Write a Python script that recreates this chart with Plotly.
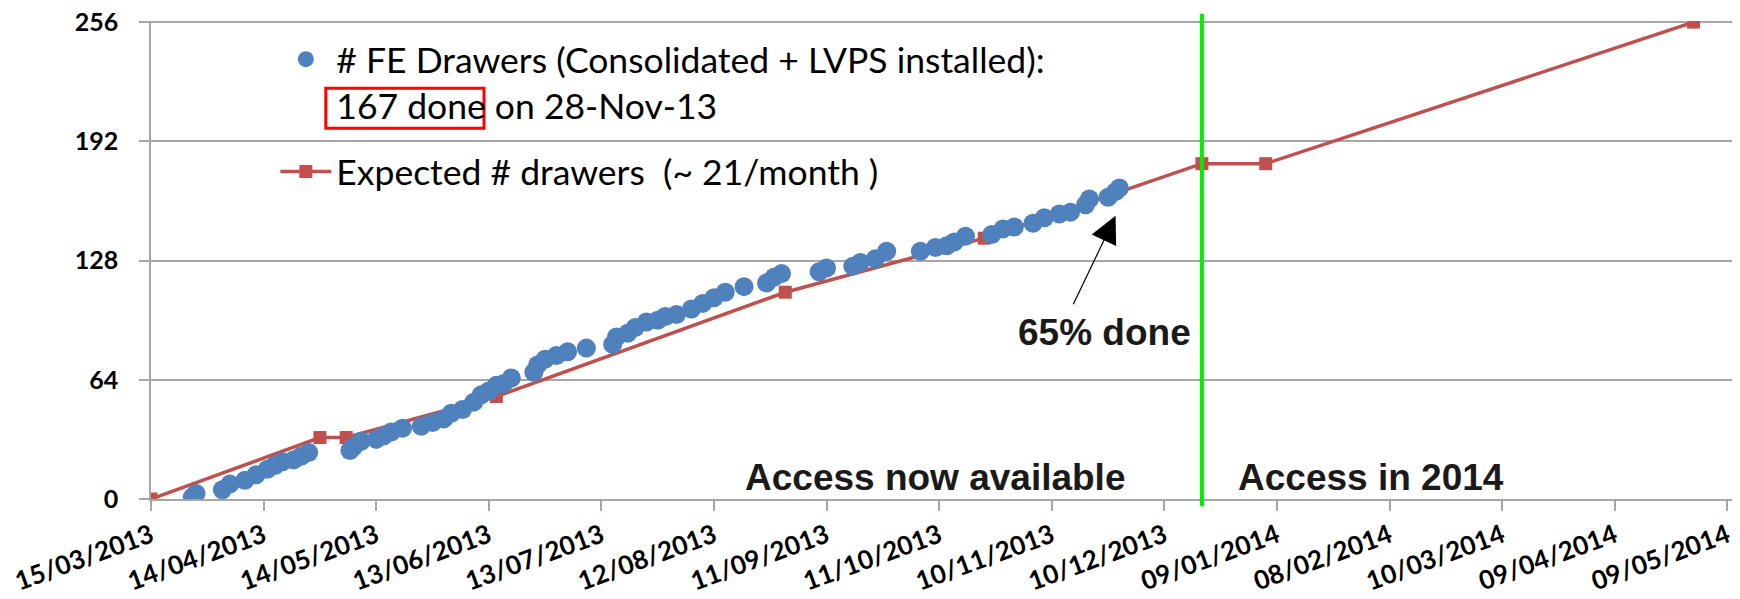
import plotly.graph_objects as go

# actual drawers (consolidated + LVPS installed)
done_dates = [
    '2013-03-26', '2013-03-27', '2013-04-03', '2013-04-05', '2013-04-09', '2013-04-12',
    '2013-04-15', '2013-04-17', '2013-04-19', '2013-04-22', '2013-04-24', '2013-04-26',
    '2013-05-07', '2013-05-08', '2013-05-10', '2013-05-14', '2013-05-16', '2013-05-18',
    '2013-05-21', '2013-05-26', '2013-05-29', '2013-06-01', '2013-06-03', '2013-06-06',
    '2013-06-09', '2013-06-11', '2013-06-13', '2013-06-15', '2013-06-17', '2013-06-19',
    '2013-06-25', '2013-06-26', '2013-06-28', '2013-07-01', '2013-07-04', '2013-07-09',
    '2013-07-16', '2013-07-17', '2013-07-20', '2013-07-22', '2013-07-25', '2013-07-28',
    '2013-07-30', '2013-08-02', '2013-08-06', '2013-08-09', '2013-08-12', '2013-08-15',
    '2013-08-20', '2013-08-26', '2013-08-28', '2013-08-30', '2013-09-09', '2013-09-11',
    '2013-09-18', '2013-09-20', '2013-09-24', '2013-09-27', '2013-10-06', '2013-10-10',
    '2013-10-13', '2013-10-15', '2013-10-18', '2013-10-25', '2013-10-28', '2013-10-31',
    '2013-11-05', '2013-11-08', '2013-11-12', '2013-11-15', '2013-11-19', '2013-11-20',
    '2013-11-25', '2013-11-27', '2013-11-28',
]
done_counts = [
    1, 3, 5, 8, 10, 13,
    16, 18, 20, 21, 23, 25,
    26, 28, 31, 32, 34, 36,
    38, 39, 41, 43, 46, 48,
    52, 56, 58, 61, 62, 65,
    68, 72, 75, 77, 79, 81,
    83, 87, 89, 92, 95, 96,
    98, 99, 102, 105, 108, 111,
    114, 116, 119, 121, 122, 124,
    125, 127, 129, 133, 133, 135,
    136, 138, 141, 142, 145, 146,
    148, 151, 153, 154, 158, 161,
    162, 165, 167,
]

# expected number of drawers (~21/month)
expected_dates = ['2013-03-15', '2013-04-29', '2013-05-06', '2013-06-15', '2013-08-31',
                  '2013-10-23', '2013-12-20', '2014-01-06', '2014-04-30']
expected_counts = [0, 33, 33, 55, 111, 140, 180, 180, 256]

tick_dates = ['2013-03-15', '2013-04-14', '2013-05-14', '2013-06-13', '2013-07-13',
              '2013-08-12', '2013-09-11', '2013-10-11', '2013-11-10', '2013-12-10',
              '2014-01-09', '2014-02-08', '2014-03-10', '2014-04-09', '2014-05-09']
tick_labels = ['15/03/2013', '14/04/2013', '14/05/2013', '13/06/2013', '13/07/2013',
               '12/08/2013', '11/09/2013', '11/10/2013', '10/11/2013', '10/12/2013',
               '09/01/2014', '08/02/2014', '10/03/2014', '09/04/2014', '09/05/2014']
y_ticks = [0, 64, 128, 192, 256]

access_split = '2013-12-20'

GRID = '#a6a6a6'
BLUE = '#4f81bd'
RED = '#c0504d'

fig = go.Figure()

fig.add_trace(go.Scatter(
    x=expected_dates, y=expected_counts, mode='lines+markers',
    name='Expected # drawers  (~ 21/month )',
    line=dict(color=RED, width=3.5),
    marker=dict(symbol='square', size=13, color=RED),
    legendrank=2, legendgroup='expected',
))
fig.add_trace(go.Scatter(
    x=done_dates, y=done_counts, mode='markers',
    name='# FE Drawers (Consolidated + LVPS installed):<br>167 done on 28-Nov-13',
    marker=dict(size=19, color=BLUE),
    legendrank=1, legendgroup='done',
))

# boundary between current access and 2014 access
fig.add_shape(type='line', xref='x', yref='paper', x0=access_split, x1=access_split,
              y0=-0.015, y1=1.015, line=dict(color='#00ee00', width=4))

# red box round "167 done" in the legend
fig.add_shape(type='rect', xref='paper', yref='paper', x0=0.1105, x1=0.2105,
              y0=0.7756, y1=0.8595, line=dict(color='#ff0000', width=3))

bold = dict(family='Liberation Sans, Arial, sans-serif', size=37, color='#1a1a1a', weight='bold')
fig.add_annotation(x='2013-10-10', y=11.5, text='Access now available', showarrow=False,
                   font=bold)
fig.add_annotation(x='2014-02-03', y=11.5, text='Access in 2014', showarrow=False,
                   font=bold)
fig.add_annotation(x='2013-11-24', y=89.5, text='65% done', showarrow=False, font=bold)
fig.add_annotation(x='2013-11-27', y=152, ax=-43, ay=90, text='', showarrow=True,
                   arrowhead=2, arrowsize=4.5, arrowwidth=1.2, arrowcolor='black')

# the page body has an 8px margin, so the figure is 8px smaller than the window;
# the y range goes a hair past 256 so that the top gridline is still drawn
fig.update_layout(
    width=1732, height=591,
    margin=dict(l=143, r=7, t=13, b=100, autoexpand=False),
    paper_bgcolor='white', plot_bgcolor='white',
    font=dict(family='Lato, sans-serif', color='black'),
    showlegend=True,
    legend=dict(x=0.0786, y=0.982, xanchor='left', yanchor='top', bgcolor='rgba(0,0,0,0)',
                font=dict(family='Lato, sans-serif', size=35.5, color='black'),
                valign='top', itemwidth=51, tracegroupgap=17, traceorder='grouped'),
    xaxis=dict(
        type='date', range=['2013-03-15', '2014-05-10 12:00'], automargin=False,
        tickvals=tick_dates, ticktext=tick_labels, tickangle=-20,
        tickfont=dict(family='Lato, sans-serif', size=26, color='black', weight='bold'),
        showgrid=False, showline=True, linecolor=GRID, linewidth=1.5,
        ticks='outside', ticklen=10, tickcolor=GRID, tickwidth=1.5,
        zeroline=False, ticklabeloverflow='allow',
    ),
    yaxis=dict(
        range=[0, 256.6], tickvals=y_ticks, automargin=False,
        tickfont=dict(family='Lato, sans-serif', size=25, color='black', weight='bold'),
        showgrid=True, gridcolor=GRID, gridwidth=1.5,
        showline=True, linecolor=GRID, linewidth=1.5,
        ticks='outside', ticklen=10, tickcolor=GRID, tickwidth=1.5,
        zeroline=False, ticklabelstandoff=16, ticklabeloverflow='allow',
    ),
)

fig.write_html('out.html')
